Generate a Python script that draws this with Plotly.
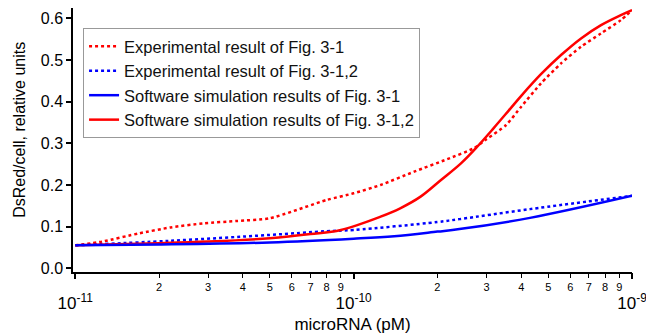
import plotly.graph_objects as go

# Experimental result of Fig. 3-1 (red dotted)
exp31_x = [1e-11, 1.25e-11, 1.7e-11, 2.2e-11, 2.9e-11, 3.8e-11, 5e-11, 8e-11, 1e-10,
           1.25e-10, 1.65e-10, 2.17e-10, 2.7e-10, 3.0e-10, 3.53e-10, 4e-10, 4.71e-10,
           5.56e-10, 6.56e-10, 7.74e-10, 9.12e-10, 1e-9]
exp31_y = [0.055, 0.064, 0.084, 0.098, 0.108, 0.1135, 0.12, 0.164, 0.18,
           0.2, 0.232, 0.262, 0.288, 0.31, 0.344, 0.388, 0.444,
           0.492, 0.532, 0.564, 0.596, 0.62]

# Experimental result of Fig. 3-1,2 (blue dotted)
exp312_x = [1e-11, 2.2e-11, 5e-11, 8e-11, 1e-10, 2e-10, 2.4e-10, 4.3e-10, 1e-9]
exp312_y = [0.055, 0.066, 0.08, 0.089, 0.092, 0.111, 0.118, 0.142, 0.174]

# Software simulation results of Fig. 3-1 (blue solid)
sim31_x = [1e-11, 2e-11, 5e-11, 1e-10, 1.4e-10, 2e-10, 2.4e-10, 4.3e-10, 1e-9]
sim31_y = [0.055, 0.057, 0.062, 0.071, 0.077, 0.088, 0.094, 0.121, 0.174]

# Software simulation results of Fig. 3-1,2 (red solid)
sim312_x = [1e-11, 2e-11, 3e-11, 5e-11, 7e-11, 9e-11, 1.25e-10, 1.47e-10, 1.74e-10,
            2.06e-10, 2.43e-10, 2.78e-10, 3.18e-10, 3.6e-10, 4e-10, 4.71e-10,
            5.56e-10, 6.56e-10, 7.74e-10, 9.12e-10, 1e-9]
sim312_y = [0.055, 0.06, 0.064, 0.072, 0.082, 0.092, 0.124, 0.144, 0.172,
            0.212, 0.252, 0.292, 0.336, 0.378, 0.414, 0.466,
            0.512, 0.552, 0.584, 0.608, 0.62]

minor_vals = [d * 1e-11 for d in range(2, 10)] + [d * 1e-10 for d in range(2, 10)]
minor_text = [str(d) for d in range(2, 10)] * 2
major_vals = [1e-11, 1e-10, 1e-9]
major_text = ["10<sup>-11</sup>", "10<sup>-10</sup>", "10<sup>-9</sup>"]
y_ticks = [0.0, 0.1, 0.2, 0.3, 0.4, 0.5, 0.6]
y_title = "DsRed/cell, relative units"
x_title = "microRNA (pM)"

RED = "#FF0000"
BLUE = "#0000FF"

fig = go.Figure()
fig.add_trace(go.Scatter(x=exp31_x, y=exp31_y, mode="lines", name="Experimental result of Fig. 3-1",
                         line=dict(color=RED, width=2.5, dash="dot", shape="spline", smoothing=0.6)))
fig.add_trace(go.Scatter(x=exp312_x, y=exp312_y, mode="lines", name="Experimental result of Fig. 3-1,2",
                         line=dict(color=BLUE, width=2.5, dash="dot", shape="spline")))
fig.add_trace(go.Scatter(x=sim31_x, y=sim31_y, mode="lines", name="Software simulation results of Fig. 3-1",
                         xaxis="x2",
                         line=dict(color=BLUE, width=2.5, shape="spline")))
fig.add_trace(go.Scatter(x=sim312_x, y=sim312_y, mode="lines", name="Software simulation results of Fig. 3-1,2",
                         line=dict(color=RED, width=2.5, shape="spline")))

FONT = "Liberation Sans, Arial, sans-serif"
xr = [-11.008, -9.0]

# page body adds an 8px offset, so the figure is 8px smaller and margins shifted
fig.update_layout(
    width=646, height=326,
    margin=dict(l=65, r=22, t=0, b=62),
    paper_bgcolor="white", plot_bgcolor="white",
    font=dict(family=FONT, color="black", size=16),
    showlegend=True,
    legend=dict(x=0.018, y=0.924, xanchor="left", yanchor="top",
                bordercolor="#999999", borderwidth=1, bgcolor="white",
                font=dict(size=16.5, color="#111111"), tracegroupgap=0),
    xaxis=dict(type="log", range=xr, showgrid=False, zeroline=False, automargin=False,
               showline=True, linecolor="black", linewidth=1.5,
               tickmode="array", tickvals=minor_vals, ticktext=minor_text,
               ticks="outside", ticklen=4, tickwidth=1.2, tickcolor="black",
               tickfont=dict(size=11, color="black")),
    xaxis2=dict(type="log", range=xr, overlaying="x", anchor="y", side="bottom",
                showgrid=False, zeroline=False, showline=False, automargin=False,
                tickmode="array", tickvals=major_vals, ticktext=major_text,
                ticks="outside", ticklen=6, tickwidth=1.5, tickcolor="black",
                ticklabelstandoff=10,
                tickfont=dict(size=17, color="black"),
                title=dict(text=x_title, font=dict(size=17), standoff=6)),
    yaxis=dict(range=[-0.009, 0.625], showgrid=False, zeroline=False, automargin=False,
               showline=True, linecolor="black", linewidth=1.5,
               tickmode="array", tickvals=y_ticks, tickformat=".1f",
               ticks="outside", ticklen=5, tickwidth=1.5, tickcolor="black",
               tickfont=dict(size=16, color="black")),
    annotations=[dict(text=y_title, textangle=-90, xref="paper", yref="paper",
                      x=-0.095, y=0.538, xanchor="center", yanchor="middle",
                      showarrow=False, font=dict(size=16, color="black"))],
)

fig.write_html("out.html")
